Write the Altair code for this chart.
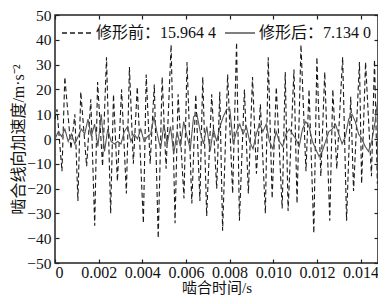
import altair as alt
import pandas as pd

# ---- data ----
lab_before = "修形前：15.964 4"
lab_after = "修形后：7.134 0"

before_t = [0.00000, 0.00009, 0.00032, 0.00045, 0.00073, 0.00091, 0.00105, 0.00118, 0.00145, 0.00164,
            0.00182, 0.00195, 0.00218, 0.00236, 0.00255, 0.00268, 0.00286, 0.00305, 0.00327, 0.00341,
            0.00359, 0.00377, 0.00405, 0.00418, 0.00436, 0.00455, 0.00473, 0.00491, 0.00509, 0.00532,
            0.00550, 0.00564, 0.00591, 0.00605, 0.00627, 0.00645, 0.00664, 0.00677, 0.00695, 0.00718,
            0.00741, 0.00755, 0.00768, 0.00791, 0.00814, 0.00832, 0.00845, 0.00868, 0.00886, 0.00905,
            0.00923, 0.00941, 0.00964, 0.00977, 0.00995, 0.01014, 0.01041, 0.01055, 0.01068, 0.01095,
            0.01109, 0.01127, 0.01150, 0.01164, 0.01186, 0.01200, 0.01218, 0.01236, 0.01259, 0.01273,
            0.01291, 0.01318, 0.01336, 0.01355, 0.01368, 0.01395, 0.01405, 0.01423, 0.01450, 0.01464,
            0.01477]
before_a = [8, 12, -13, 25, -4, 10, -25, 19, -11, 16,
            -35, 23, -11, 33, -30, 18, -17, 20, -22, 29,
            -10, 21, -34, 26, -10, 22, -40, 25, -12, 38,
            -34, 18, -24, 31, -26, 18, -25, 25, -31, 18,
            -20, 19, -37, 26, -22, 39, -33, 20, -22, 25,
            -14, 14, -30, 33, -24, 21, -28, 27, -29, 28,
            -26, 38, -13, 20, -38, 33, -15, 27, -33, 20,
            -12, 33, -33, 17, -21, 31, -18, 31, -15, 32,
            -18]

after_step = 0.0001512
after_a = [0, 3, 1, 4, -1, 2, -2, 1, 4, 2, 8, 1, 6, -3, 10, -5, 4, -1, -2, -1,
           -2, 3, 5, -1, 2, 0, 4, -1, 1, 2, 9, 2, -4, 6, -2, 5, -6, 3, -3, 7,
           1, -4, 9, 10, 3, -2, 5, -5, 4, -1,
           5, 9, 12, 12, -2, 3, 6, 2, 5, -1, -4, 2, 6, 3, 6, -1, -4, 3, -1, -3,
           2, 4, 2, 0, -3, 4, 7, 5, -1, -4, -7, -5, -1, 3, 4, 6, 2, -2, 1, 8,
           10, 7, 2, 0, -3, -5, -1, 7, 18]

x_ticks = [0, 0.002, 0.004, 0.006, 0.008, 0.010, 0.012, 0.014]
y_ticks = [-50, -40, -30, -20, -10, 0, 10, 20, 30, 40, 50]

df = pd.concat([
    pd.DataFrame({"t": before_t, "a": before_a, "series": lab_before, "o": range(len(before_t))}),
    pd.DataFrame({"t": [i * after_step for i in range(len(after_a))], "a": after_a,
                  "series": lab_after, "o": range(len(after_a))}),
])

W, H = 323, 248
FONT = "Liberation Serif, 'Noto Sans CJK SC'"
xs = alt.Scale(domain=[0, 0.0148], nice=False, zero=False)
ys = alt.Scale(domain=[-50, 50], nice=False)

leg = dict(title=None, orient="none", legendX=6, legendY=2,
           direction="horizontal", symbolType="stroke",
           symbolSize=900, symbolStrokeWidth=1.3,
           labelFont=FONT, labelFontSize=16, labelColor="#111",
           labelOffset=3, columnPadding=5, padding=0)

main = alt.Chart(df).mark_line(strokeWidth=1.1).encode(
    x=alt.X("t:Q", scale=xs, axis=alt.Axis(
        orient="bottom", values=x_ticks, ticks=False, domain=False, grid=False,
        labelExpr="datum.value == 0 ? '0' : format(datum.value, '.3f')",
        labelPadding=1, title="啮合时间/s", titlePadding=0, titleFontSize=15)),
    y=alt.Y("a:Q", scale=ys, axis=alt.Axis(
        orient="left", values=y_ticks, ticks=False, domain=False, grid=False,
        labelPadding=4, labelFontSize=15.5,
        title="啮合线向加速度/m·s⁻²", titlePadding=0)),
    color=alt.Color("series:N", scale=alt.Scale(domain=[lab_before, lab_after],
                                                range=["#1a1a1a", "#555555"]),
                    legend=alt.Legend(**leg)),
    strokeDash=alt.StrokeDash("series:N", scale=alt.Scale(domain=[lab_before, lab_after],
                                                          range=[[5, 3], [1, 0]]),
                              legend=alt.Legend(**leg)),
    order="o:Q",
)

tick_ax = dict(labels=False, domain=False, grid=False, ticks=True, tickSize=4,
               tickColor="#222", tickWidth=1.2, title=None)

inner1 = alt.Chart(df).mark_point(opacity=0).encode(
    x=alt.X("t:Q", scale=xs, axis=alt.Axis(orient="top", offset=-H, values=x_ticks, **tick_ax)),
    y=alt.Y("a:Q", scale=ys, axis=alt.Axis(orient="right", offset=-W, values=y_ticks, **tick_ax)),
)
inner2 = alt.Chart(df).mark_point(opacity=0).encode(
    x=alt.X("t:Q", scale=xs, axis=alt.Axis(orient="bottom", offset=-H, values=x_ticks, **tick_ax)),
    y=alt.Y("a:Q", scale=ys, axis=alt.Axis(orient="left", offset=-W, values=y_ticks, **tick_ax)),
)

chart = alt.layer(main, inner1, inner2).resolve_axis(x="independent", y="independent").properties(
    width=W, height=H,
    autosize=alt.AutoSizeParams(type="none"),
    padding={"left": 47, "top": 7, "right": 0, "bottom": 33},
    background="white",
).configure_view(stroke="#222", strokeWidth=1.5).configure_axis(
    labelFont=FONT, labelFontSize=16, labelColor="#111",
    titleFont=FONT, titleFontSize=16, titleFontWeight="normal", titleColor="#111",
)

chart.save("out.html", embed_options={"renderer": "svg", "actions": False})
